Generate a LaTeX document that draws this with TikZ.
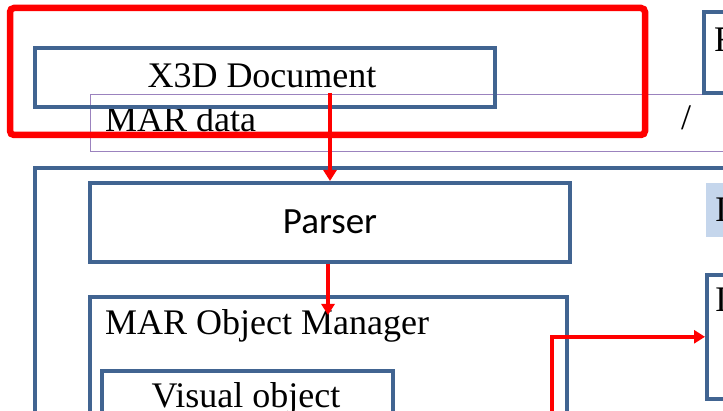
\documentclass[tikz,border=0pt]{standalone}
\usepackage{fontspec}
\setmainfont{Liberation Serif}
\newfontfamily\parserfont{Carlito}
\usetikzlibrary{arrows.meta}
\definecolor{boxblue}{RGB}{65,100,145}
\definecolor{datapurple}{RGB}{155,130,190}
\definecolor{paleblue}{RGB}{197,214,236}
\definecolor{flowred}{RGB}{255,0,0}
\tikzset{
  blockbox/.style={draw=boxblue, line width=3.6pt, inner sep=0pt, anchor=north west},
  databox/.style={draw=datapurple, line width=1.4pt, inner sep=0pt, anchor=north west},
  label/.style={inner sep=0pt, font=\fontsize{36}{40}\selectfont},
  flow/.style={draw=flowred, line width=3.6pt, -{Triangle[length=11pt,width=13pt]}},
  focus/.style={draw=flowred, line width=6.5pt, rounded corners=4pt},
}
\begin{document}
\begin{tikzpicture}[x=1pt,y=-1pt]
\useasboundingbox (0,0) rectangle (723,411);
\clip (0,0) rectangle (723,411);

% outer system frame and the data strip
\node[blockbox, minimum width=800pt, minimum height=320pt] (system) at (33,166) {};
\node[databox, minimum width=700pt, minimum height=57pt] (mardata) at (90,94) {};
\node[label, anchor=base west] (mardatatxt) at (105,132) {MAR data};
\node[label, anchor=base] (slash) at (686,130) {/};

% input document
\node[blockbox, minimum width=460pt, minimum height=59pt] (x3d) at (33,46) {};
\node[label, anchor=base] (x3dtxt) at (262,88) {X3D Document};

% right-hand column, running on past the frame
\node[blockbox, fill=white, minimum width=100pt, minimum height=81pt] (topright) at (702,10) {};
\node[label, anchor=base west] (toprighttxt) at (714,52) {F};
\node[inner sep=0pt, anchor=north west, fill=paleblue, minimum width=100pt, minimum height=54pt] (tag) at (706,183) {};
\node[label, anchor=base west] (tagtxt) at (715,222) {I};
\node[blockbox, minimum width=100pt, minimum height=124pt] (renderer) at (705,273) {};
\node[label, anchor=base west] (renderertxt) at (715,312) {I};

% parser and object manager
\node[blockbox, minimum width=480pt, minimum height=79pt] (parser) at (88,181) {};
\node[inner sep=0pt, anchor=base, font=\parserfont\fontsize{37}{40}\selectfont] (parsertxt) at (330,234) {Parser};
\node[blockbox, minimum width=477pt, minimum height=200pt] (manager) at (88,295) {};
\node[label, anchor=base west] (managertxt) at (105,335) {MAR Object Manager};
\node[blockbox, minimum width=291pt, minimum height=100pt] (visual) at (100,369) {};
\node[label, anchor=base] (visualtxt) at (246,408) {Visual object};

% red flow
\coordinate (docout) at (330,93);
\coordinate (mgrin) at (328,315);
\coordinate (mgrout) at (552,430);
\draw[flow] (docout) -- (docout |- parser.north);
\draw[flow] (parser.south -| mgrin) -- (mgrin);
\draw[flow] (mgrout) |- (renderer.west);

% highlight frame
\draw[focus] (10,8) rectangle (645,135);
\end{tikzpicture}
\end{document}
